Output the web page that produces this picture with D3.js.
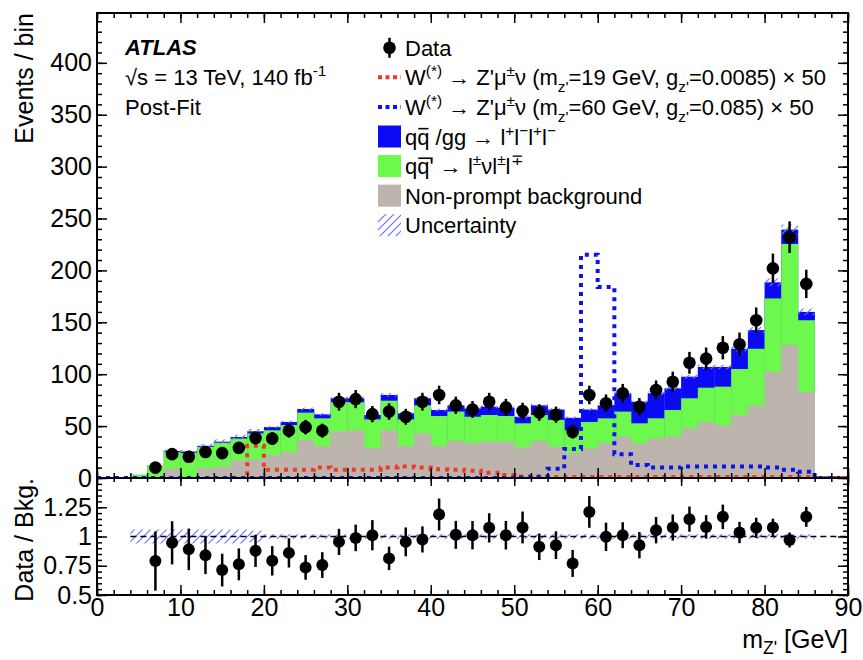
<!DOCTYPE html>
<html>
<head>
<meta charset="utf-8">
<title>m_Z' post-fit distribution</title>
<script src="https://d3js.org/d3.v7.min.js"></script>
<style>
 html, body { margin: 0; padding: 0; background: #fff; }
 svg text { font-family: "Liberation Sans", Arial, Helvetica, sans-serif; fill: #000; }
 .tick line { stroke: #000; stroke-width: 1.5; }
</style>
</head>
<body>
<div id="plot"></div>
<script>
// 2 GeV bins, low edges
const binLow = [0,2,4,6,8,10,12,14,16,18,20,22,24,26,28,30,32,34,36,38,40,42,
                44,46,48,50,52,54,56,58,60,62,64,66,68,70,72,74,76,78,80,82,84];
const binWidth = 2;

// stacked backgrounds (events / bin)
const nonPrompt = [0,0,0,0,9,1,9.5,11,17,18,22,25,36.6,30.8,45,46,28.6,46,30.8,43,30.8,35.6,
                   33.4,35,35,29.6,35.6,30,24,28.6,33.4,40,33.4,38.2,40,47.9,54,51,60.7,70,102.4,128,83];
const wz = [0,0,3,12.5,16,23,20.5,23,21,25,24,26,26.4,26.7,28,27,27.9,28.5,25.7,27,28.9,28.4,
            25.6,25.7,24.7,23.1,25.1,26,22,25.4,24.1,24,19.3,19.3,25.5,28.9,33,37,44.3,54.5,70.6,97.5,69];
const zz = [0,0,0,0,1,1.5,1,1,1.5,2,3,3,3.5,3.8,3.8,3.8,4.2,5.5,5.8,6.8,5.8,6,
            8,8,8,6.3,9.3,10,12,12,12.5,17.6,20.8,24.1,20.9,20.8,20,19,19.5,18,15.5,13.8,8];
// relative background uncertainty
const uncRel = [0,0,0.06,0.06,0.06,0.06,0.06,0.06,0.06,0.05,0.02,0.02,0.02,0.02,0.02,0.02,0.02,0.02,0.02,0.02,0.02,0.02,
                0.02,0.02,0.02,0.02,0.02,0.02,0.02,0.02,0.02,0.02,0.02,0.02,0.02,0.02,0.02,0.02,0.02,0.02,0.02,0.02,0.02];

// signals (x 50)
const sig19 = [0,0,0,0,0,0,0,0,0,31,8,8,8,10,8,8,8,10,11,10,8.5,8,
               7,5,3,1.5,1.2,1,1,1,1,1,1,1,1,1,1,1,1,1,1,1,1];
const sig60 = [0,0,0,0,0,0,0,0,0,0,0,0,0,0,0,0,0,0,0,0,0,0,
               0,0,0,0.5,1.2,9,28,215,184,23,12.5,10,10,11,11,11,11,11,10,8,6];

// data
const data = [null,null,null,10,23,20.5,25,24,29,38.5,38,45.6,49,45.6,73.5,76,61.5,64,59,73.5,80,70,
              66,73.5,68,64.5,63,61,44.6,80,72,81.6,68.7,84.8,92.8,111,115,125.5,128.8,152,202,232,187];
const ratio = [null,null,null,0.79,0.946,0.89,0.84,0.713,0.762,0.878,0.792,0.86,0.736,0.756,0.954,0.988,1.011,0.813,0.954,0.975,1.188,1.014,
               1.011,1.074,1.011,1.077,0.912,0.926,0.77,1.21,0.997,1.011,0.926,1.054,1.077,1.148,1.082,1.168,1.034,1.074,1.077,0.97,1.168];

const xTicks = [0,10,20,30,40,50,60,70,80,90];
const yTicks = [0,50,100,150,200,250,300,350,400];
const rTicks = [0.5,0.75,1,1.25];

const legendRows = ["Data", "sig19", "sig60", "zz", "wz", "np", "unc"];

const col = {np: "#bdb5ad", wz: "#6cf84c", zz: "#0a0af5", red: "#ee3a2a", blue: "#0b12ee", hatch: "#6f6ff6"};

// layout
const W = 863, H = 660;
const X0 = 97, X1 = 848, YT = 13, YM = 478, YB = 595;

const svg = d3.select("#plot").append("svg").attr("width", W).attr("height", H);

const x = d3.scaleLinear().domain([0, 90]).range([X0, X1]);
const y = d3.scaleLinear().domain([0, 448]).range([YM, YT]);
const yr = d3.scaleLinear().domain([0.5, 1.5]).range([YB, YM]);

const defs = svg.append("defs");
defs.append("pattern").attr("id", "hatch").attr("patternUnits", "userSpaceOnUse")
    .attr("width", 8).attr("height", 8)
    .append("path").attr("d", "M-2,2 L2,-2 M0,8 L8,0 M6,10 L10,6")
    .attr("stroke", col.hatch).attr("stroke-width", 1.2);
defs.append("clipPath").attr("id", "clipMain").append("rect")
    .attr("x", X0).attr("y", YT).attr("width", X1 - X0).attr("height", YM - YT);
defs.append("clipPath").attr("id", "clipRatio").append("rect")
    .attr("x", X0).attr("y", YM).attr("width", X1 - X0).attr("height", YB - YM);

const bins = binLow.map((lo, i) => ({
    lo: lo, hi: lo + binWidth,
    np: nonPrompt[i], wz: nonPrompt[i] + wz[i], tot: nonPrompt[i] + wz[i] + zz[i],
    unc: uncRel[i], d: data[i], r: ratio[i], s19: sig19[i], s60: sig60[i]
}));

// ---- main panel ----
const main = svg.append("g").attr("clip-path", "url(#clipMain)");

function stackLayer(key, color) {
    main.selectAll(null).data(bins.filter(b => b[key] > 0)).join("rect")
        .attr("x", b => x(b.lo)).attr("width", b => x(b.hi) - x(b.lo) + 0.3)
        .attr("y", b => y(b[key])).attr("height", b => y(0) - y(b[key]))
        .attr("fill", color);
}
stackLayer("tot", col.zz);
stackLayer("wz", col.wz);
stackLayer("np", col.np);

// uncertainty band
main.selectAll(null).data(bins.filter(b => b.tot > 0)).join("rect")
    .attr("x", b => x(b.lo)).attr("width", b => x(b.hi) - x(b.lo))
    .attr("y", b => y(b.tot * (1 + b.unc)))
    .attr("height", b => y(b.tot * (1 - b.unc)) - y(b.tot * (1 + b.unc)))
    .attr("fill", "url(#hatch)");

// signal step lines
function sigLine(key, color) {
    const pts = bins.map(b => [b.lo, b[key]]).concat([[86, 0], [90, 0]]);
    main.append("path").datum(pts)
        .attr("fill", "none").attr("stroke", color).attr("stroke-width", 4)
        .attr("stroke-dasharray", "4,5")
        .attr("d", d3.line().x(p => x(p[0])).y(p => y(p[1])).curve(d3.curveStepAfter));
}
sigLine("s19", col.red);
sigLine("s60", col.blue);

// data points
const dpts = bins.filter(b => b.d != null);
main.selectAll(null).data(dpts).join("line")
    .attr("x1", b => x(b.lo + 1)).attr("x2", b => x(b.lo + 1))
    .attr("y1", b => y(b.d + Math.sqrt(b.d))).attr("y2", b => y(b.d - Math.sqrt(b.d)))
    .attr("stroke", "#000").attr("stroke-width", 2.5);
main.selectAll(null).data(dpts).join("circle")
    .attr("cx", b => x(b.lo + 1)).attr("cy", b => y(b.d)).attr("r", 6.3).attr("fill", "#000");

// ---- ratio panel ----
const rat = svg.append("g").attr("clip-path", "url(#clipRatio)");
rat.selectAll(null).data(bins.filter(b => b.tot > 0)).join("rect")
    .attr("x", b => x(b.lo)).attr("width", b => x(b.hi) - x(b.lo))
    .attr("y", b => yr(1 + b.unc)).attr("height", b => yr(1 - b.unc) - yr(1 + b.unc))
    .attr("fill", "url(#hatch)");
rat.append("line").attr("x1", x(4)).attr("x2", x(90)).attr("y1", yr(1)).attr("y2", yr(1))
    .attr("stroke", "#000").attr("stroke-width", 1.5).attr("stroke-dasharray", "6,4");
rat.selectAll(null).data(dpts).join("line")
    .attr("x1", b => x(b.lo + 1)).attr("x2", b => x(b.lo + 1))
    .attr("y1", b => yr(b.r + Math.sqrt(b.d) / b.tot)).attr("y2", b => yr(b.r - Math.sqrt(b.d) / b.tot))
    .attr("stroke", "#000").attr("stroke-width", 2.5);
rat.selectAll(null).data(dpts).join("circle")
    .attr("cx", b => x(b.lo + 1)).attr("cy", b => yr(b.r)).attr("r", 6).attr("fill", "#000");

// ---- axes ----
const minorX = d3.range(0, 91, 2);
function axis(gen, tx, ty, labels) {
    const g = svg.append("g").attr("transform", `translate(${tx},${ty})`).call(gen);
    g.select(".domain").remove();
    g.selectAll("text").style("font-size", "25px").style("font-family", "Liberation Sans, Arial, sans-serif");
    if (!labels) g.selectAll("text").remove();
    return g;
}
// x axes
axis(d3.axisTop(x).tickValues(xTicks).tickSize(-10), 0, YT, false);
axis(d3.axisTop(x).tickValues(minorX).tickSize(-5), 0, YT, false);
axis(d3.axisBottom(x).tickValues(xTicks).tickSize(-10), 0, YM, false);
axis(d3.axisBottom(x).tickValues(minorX).tickSize(-5), 0, YM, false);
axis(d3.axisTop(x).tickValues(xTicks).tickSize(-8), 0, YM, false);
axis(d3.axisTop(x).tickValues(minorX).tickSize(-4), 0, YM, false);
axis(d3.axisBottom(x).tickValues(xTicks).tickSize(-10).tickPadding(3), 0, YB, true);
axis(d3.axisBottom(x).tickValues(minorX).tickSize(-5), 0, YB, false);
// main y axes
const minorY = d3.range(0, 441, 10);
axis(d3.axisLeft(y).tickValues(yTicks).tickSize(-10).tickPadding(5), X0, 0, true);
axis(d3.axisLeft(y).tickValues(minorY).tickSize(-5), X0, 0, false);
axis(d3.axisRight(y).tickValues(yTicks).tickSize(-10), X1, 0, false);
axis(d3.axisRight(y).tickValues(minorY).tickSize(-5), X1, 0, false);
// ratio y axes
const minorR = d3.range(0.5, 1.5, 0.05);
axis(d3.axisLeft(yr).tickValues(rTicks).tickSize(-10).tickPadding(5).tickFormat(d => String(d)), X0, 0, true);
axis(d3.axisLeft(yr).tickValues(minorR).tickSize(-5), X0, 0, false);
axis(d3.axisRight(yr).tickValues(rTicks).tickSize(-10), X1, 0, false);
axis(d3.axisRight(yr).tickValues(minorR).tickSize(-5), X1, 0, false);

// frames
svg.append("rect").attr("x", X0).attr("y", YT).attr("width", X1 - X0).attr("height", YM - YT)
    .attr("fill", "none").attr("stroke", "#000").attr("stroke-width", 2);
svg.append("rect").attr("x", X0).attr("y", YM).attr("width", X1 - X0).attr("height", YB - YM)
    .attr("fill", "none").attr("stroke", "#000").attr("stroke-width", 2);

// rich text helper: parts = [text, shift(px, neg = up), scale, overline]
function rich(px, py, parts, size, anchor) {
    const t = svg.append("text").attr("x", px).attr("y", py).attr("font-size", size)
        .attr("text-anchor", anchor || "start");
    let cur = 0;
    const bars = [];
    parts.forEach(p => {
        const [s, sh = 0, sc = 1, over = false] = p;
        const ts = t.append("tspan").attr("dy", sh - cur).attr("font-size", size * sc).text(s);
        if (over) bars.push(ts.node());
        cur = sh;
    });
    // bar over antiquarks
    bars.forEach(n => {
        const a = n.getExtentOfChar(0);
        const b = n.getExtentOfChar(n.getNumberOfChars() - 1);
        svg.append("line").attr("x1", a.x + 1).attr("x2", b.x + b.width - 1)
            .attr("y1", py - size * 0.72).attr("y2", py - size * 0.72)
            .attr("stroke", "#000").attr("stroke-width", 1.6);
    });
    return t;
}

// axis titles
svg.append("text").attr("transform", `translate(33,${YT}) rotate(-90)`)
    .attr("text-anchor", "end").attr("font-size", 25).text("Events / bin");
svg.append("text").attr("transform", `translate(33,${YM}) rotate(-90)`)
    .attr("text-anchor", "end").attr("font-size", 25).text("Data / Bkg.");
rich(X1, 648, [["m"], ["Z'", 6, 0.7], [" [GeV]", 0]], 25, "end");

// ATLAS label
svg.append("text").attr("x", 125).attr("y", 55).attr("font-size", 22)
    .attr("font-weight", "bold").attr("font-style", "italic").text("ATLAS");
rich(125, 85, [["√s = 13 TeV, 140 fb"], ["-1", -9, 0.7]], 22);
svg.append("text").attr("x", 125).attr("y", 115).attr("font-size", 22).text("Post-Fit");

// legend
const lg = d3.scaleBand().domain(legendRows).range([33, 240]);
const rowY = k => lg(k) + lg.bandwidth() / 2;
const LX = 378, LW = 23, TX = 405, FS = 22;

svg.append("line").attr("x1", LX + LW / 2).attr("x2", LX + LW / 2)
    .attr("y1", rowY("Data") - 10).attr("y2", rowY("Data") + 10).attr("stroke", "#000").attr("stroke-width", 2.5);
svg.append("circle").attr("cx", LX + LW / 2).attr("cy", rowY("Data")).attr("r", 6.3).attr("fill", "#000");
rich(TX, rowY("Data") + 8, [["Data"]], FS);

[["sig19", col.red, "19", "0.0085"], ["sig60", col.blue, "60", "0.085"]].forEach(([k, c, m, g]) => {
    svg.append("line").attr("x1", LX).attr("x2", LX + LW).attr("y1", rowY(k)).attr("y2", rowY(k))
        .attr("stroke", c).attr("stroke-width", 4).attr("stroke-dasharray", "4,3.5");
    rich(TX, rowY(k) + 8, [["W"], ["(*)", -9, 0.7], [" → Z'μ", 0], ["±", -9, 0.7], ["ν (m", 0],
        ["z'", 7, 0.7], ["=" + m + " GeV, g", 0], ["z'", 7, 0.7], ["=" + g + ") × 50", 0]], FS);
});

[["zz", col.zz], ["wz", col.wz], ["np", col.np]].forEach(([k, c]) => {
    svg.append("rect").attr("x", LX).attr("y", rowY(k) - 11).attr("width", LW).attr("height", 22).attr("fill", c);
});
rich(TX, rowY("zz") + 8, [["q"], ["q", 0, 1, true], [" /gg → l"], ["+", -9, 0.7], ["l", 0], ["−", -9, 0.7],
    ["l", 0], ["+", -9, 0.7], ["l", 0], ["−", -9, 0.7]], FS);
rich(TX, rowY("wz") + 8, [["q"], ["q'", 0, 1, true], [" → l"], ["±", -9, 0.7], ["νl", 0], ["±", -9, 0.7],
    ["l", 0], ["∓", -9, 0.7]], FS);
rich(TX, rowY("np") + 8, [["Non-prompt background"]], FS);

svg.append("rect").attr("x", LX).attr("y", rowY("unc") - 11).attr("width", LW).attr("height", 22)
    .attr("fill", "url(#hatch)");
rich(TX, rowY("unc") + 8, [["Uncertainty"]], FS);
</script>
</body>
</html>
